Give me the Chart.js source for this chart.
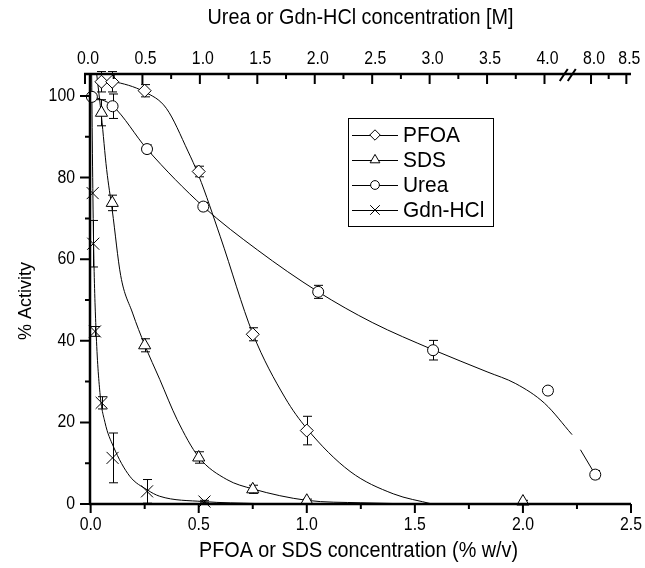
<!DOCTYPE html>
<html>
<head>
<meta charset="utf-8">
<script src="https://cdn.jsdelivr.net/npm/chart.js@4.4.1/dist/chart.umd.min.js"></script>
<style>
  html, body { margin: 0; padding: 0; background: #fff; }
  #wrap { width: 645px; height: 568px; }
</style>
</head>
<body>
<div id="wrap"><canvas id="chart" width="645" height="568"></canvas></div>
<script>
// ---------------- values ----------------
// PFOA and SDS use the bottom axis (% w/v)
const pfoaConc = [0.05, 0.1, 0.25, 0.5, 0.75, 1.0];
const pfoaAct  = [103.5, 103.5, 101.3, 81.5, 41.6, 18.0];
const pfoaErr  = [2.5, 2.5, 1.5, 1.3, 1.6, 3.5];

const sdsConc = [0.05, 0.1, 0.25, 0.5, 0.75, 1.0, 2.0];
const sdsAct  = [95.9, 73.8, 38.9, 11.4, 3.6, 0.8, 0.6];
const sdsErr  = [3.2, 1.9, 1.6, 1.4, 1.0, 0.4, 0.3];

// Urea and Gdn-HCl use the top axis (M)
const ureaConc = [0.06, 0.24, 0.54, 1.03, 2.03, 3.03, 4.03, 8.06];
const ureaAct  = [99.8, 97.5, 87.0, 72.9, 52.0, 37.7, 27.8, 7.2];
const ureaErr  = [0, 3.0, 1.0, 1.0, 1.6, 2.4, 0.8, 1.0];

const gdnConc = [0.067, 0.072, 0.087, 0.145, 0.24, 0.54, 1.04];
const gdnAct  = [76.2, 63.8, 42.3, 24.8, 11.3, 3.1, 0.6];
const gdnErr  = [0, 5.7, 1.2, 1.5, 6.1, 2.9, 0.3];

// fitted curves as they appear in the figure
const pfoaFitX = [0.05, 0.1, 0.25, 0.35, 0.45, 0.5, 0.6, 0.75, 0.9, 1.0, 1.2, 1.4, 1.58];
const pfoaFitY = [103.8, 103.6, 101.0, 97.0, 86.5, 80.5, 65.5, 41.8, 26.0, 18.5, 8.0, 2.5, 0];

const sdsFitX = [0.028, 0.05, 0.074, 0.1, 0.139, 0.194, 0.25, 0.32, 0.40, 0.5, 0.63, 0.75, 1.0, 1.25, 1.54];
const sdsFitY = [105.4, 95, 82, 72, 56, 46.8, 39, 30.5, 20.7, 11.5, 6.0, 3.7, 0.9, 0.3, 0];

const ureaFitX = [0.06, 0.24, 0.54, 1.03, 1.5, 2.03, 2.5, 3.03, 3.5, 3.75, 4.0, 4.24, 6.0, 7.85, 8.06];
const ureaFitY = [100, 97.6, 87.0, 72.9, 62.3, 52.0, 44.5, 37.8, 32.4, 29.5, 24.7, 17.0, null, 13.3, 7.2];

const gdnFitX = [0.058, 0.067, 0.076, 0.096, 0.13, 0.174, 0.247, 0.39, 0.54, 0.65, 1.03, 1.5];
const gdnFitY = [105.4, 80, 62, 42.7, 27.3, 20, 14.1, 6.8, 3.5, 1.9, 0.6, 0.1];

const seriesNames = ['PFOA', 'SDS', 'Urea', 'Gdn-HCl'];

// tick labels
const bottomMajor = [0, 0.5, 1.0, 1.5, 2.0, 2.5];
const bottomMinor = [0.25, 0.75, 1.25, 1.75, 2.25];
const topMajor = [0, 0.5, 1.0, 1.5, 2.0, 2.5, 3.0, 3.5, 4.0, 8.0, 8.5];
const topMinor = [0.25, 0.75, 1.25, 1.75, 2.25, 2.75, 3.25, 3.75, 8.25];
const leftMajor = [0, 20, 40, 60, 80, 100];
const leftMinor = [10, 30, 50, 70, 90];

const FONT = 'Arial, "Liberation Sans", Helvetica, sans-serif';
Chart.defaults.font.family = FONT;
Chart.defaults.color = '#000';

// ---------------- top axis with a break between 4 and 8 M ----------------
const TOP_MIN = 0.0436;   // chart left edge sits slightly right of 0 M
const TOP_MAX = 4.753;
const AFTER_BREAK_START = 4.405;  // where 8.0 M lands on the stretched axis
const AFTER_BREAK_RATIO = 0.615;  // the part after the break is compressed

class BrokenLinearScale extends Chart.LinearScale {
  determineDataLimits() {
    this.min = TOP_MIN;
    this.max = TOP_MAX;
  }
  buildTicks() {
    return topMajor.map(v => ({ value: v }));
  }
  getPixelForValue(value) {
    if (value === null || value === undefined || isNaN(value)) return NaN;
    const u = value > 6 ? AFTER_BREAK_START + (value - 8) * AFTER_BREAK_RATIO : value;
    return super.getPixelForValue(u);
  }
}
BrokenLinearScale.id = 'brokenLinear';
BrokenLinearScale.defaults = Chart.LinearScale.defaults;
Chart.register(BrokenLinearScale);

function toPoints(xs, ys) {
  return xs.map((x, i) => ({ x: x, y: ys[i] }));
}

// the figure uses a tall, slightly narrow face: squeeze text horizontally
function drawText(ctx, text, x, y, size, align, squeeze) {
  ctx.save();
  ctx.translate(x, y);
  ctx.scale(squeeze, 1);
  ctx.font = size + 'px ' + FONT;
  ctx.textAlign = align;
  ctx.textBaseline = 'middle';
  ctx.fillStyle = '#000';
  ctx.fillText(text, 0, 0);
  ctx.restore();
}

// ---------------- plugins ----------------
const errorBarPlugin = {
  id: 'errorBars',
  beforeDatasetsDraw(chart) {
    const ctx = chart.ctx;
    const ys = chart.scales.y;
    ctx.save();
    ctx.strokeStyle = '#000';
    ctx.lineWidth = 1;
    chart.data.datasets.forEach(ds => {
      if (!ds.errors) return;
      const xs = chart.scales[ds.xAxisID];
      ds.data.forEach((p, j) => {
        const e = ds.errors[j];
        if (!e) return;
        const px = Math.round(xs.getPixelForValue(p.x)) + 0.5;
        const y1 = ys.getPixelForValue(p.y + e);
        const y2 = ys.getPixelForValue(p.y - e);
        ctx.beginPath();
        ctx.moveTo(px, y1); ctx.lineTo(px, y2);
        ctx.moveTo(px - 4.5, y1); ctx.lineTo(px + 4.5, y1);
        ctx.moveTo(px - 4.5, y2); ctx.lineTo(px + 4.5, y2);
        ctx.stroke();
      });
    });
    ctx.restore();
  }
};

const TICK_FONT = 18;
const TICK_SQUEEZE = 0.88;

const axisPlugin = {
  id: 'axisDecor',
  afterDraw(chart) {
    const ctx = chart.ctx;
    const { left, right, top, bottom } = chart.chartArea;
    const xs = chart.scales.x, x2 = chart.scales.x2, ys = chart.scales.y;
    ctx.save();
    ctx.strokeStyle = '#000';
    ctx.lineCap = 'butt';

    // axis lines
    ctx.lineWidth = 2.5;
    ctx.beginPath();
    ctx.moveTo(left, top - 1); ctx.lineTo(left, bottom + 1);
    ctx.moveTo(left - 1, bottom); ctx.lineTo(right, bottom);
    ctx.moveTo(x2.getPixelForValue(0) - 1, top); ctx.lineTo(right, top);
    ctx.stroke();

    // ticks: left and bottom point outwards, top points into the plot
    ctx.lineWidth = 2;
    ctx.beginPath();
    leftMajor.forEach(v => { const p = ys.getPixelForValue(v); ctx.moveTo(left, p); ctx.lineTo(left - 10, p); });
    leftMinor.forEach(v => { const p = ys.getPixelForValue(v); ctx.moveTo(left, p); ctx.lineTo(left - 5, p); });
    bottomMajor.forEach(v => { const p = xs.getPixelForValue(v); ctx.moveTo(p, bottom); ctx.lineTo(p, bottom + 9); });
    bottomMinor.forEach(v => { const p = xs.getPixelForValue(v); ctx.moveTo(p, bottom); ctx.lineTo(p, bottom + 5); });
    topMajor.forEach(v => { const p = x2.getPixelForValue(v); ctx.moveTo(p, top); ctx.lineTo(p, top + 10); });
    topMinor.forEach(v => { const p = x2.getPixelForValue(v); ctx.moveTo(p, top); ctx.lineTo(p, top + 5); });
    ctx.stroke();

    // axis break marks between 4.0 and 8.0 M
    const bx = (x2.getPixelForValue(4.0) + x2.getPixelForValue(8.0)) / 2;
    ctx.lineWidth = 2;
    ctx.beginPath();
    ctx.moveTo(bx - 8, top + 7); ctx.lineTo(bx, top - 5);
    ctx.moveTo(bx, top + 7); ctx.lineTo(bx + 8, top - 5);
    ctx.stroke();

    // tick labels
    leftMajor.forEach(v => drawText(ctx, String(v), left - 15, ys.getPixelForValue(v), TICK_FONT, 'right', TICK_SQUEEZE));
    bottomMajor.forEach(v => drawText(ctx, v.toFixed(1), xs.getPixelForValue(v), bottom + 21, TICK_FONT, 'center', TICK_SQUEEZE));
    topMajor.forEach(v => drawText(ctx, v.toFixed(1), x2.getPixelForValue(v) + 3, top - 15, TICK_FONT, 'center', TICK_SQUEEZE));

    // axis titles
    const midX = (left + right) / 2;
    drawText(ctx, 'Urea or Gdn-HCl concentration [M]', midX, 18, 22, 'center', 0.9);
    drawText(ctx, 'PFOA or SDS concentration (% w/v)', midX - 2, 551, 22, 'center', 0.9);
    ctx.translate(26, 301);
    ctx.rotate(-Math.PI / 2);
    drawText(ctx, '% Activity', 0, 0, 18, 'center', 1);
    ctx.restore();
  }
};

const legendPlugin = {
  id: 'boxLegend',
  afterDatasetsDraw(chart) {
    const ctx = chart.ctx;
    ctx.save();
    ctx.strokeStyle = '#000';
    ctx.fillStyle = '#fff';
    ctx.lineWidth = 1;
    ctx.fillRect(348, 118, 145, 108);
    ctx.strokeRect(348.5, 118.5, 145, 108);
    seriesNames.forEach((name, i) => {
      const ds = chart.data.datasets[i];
      const cy = 135 + i * 25;
      ctx.strokeStyle = '#000';
      ctx.lineWidth = 1;
      ctx.beginPath();
      ctx.moveTo(352, cy + 0.5); ctx.lineTo(398, cy + 0.5);
      ctx.stroke();
      ctx.fillStyle = '#fff';
      Chart.helpers.drawPoint(ctx, { pointStyle: ds.pointStyle, radius: ds.pointRadius * 0.8, borderWidth: 1, rotation: 0 }, 375, cy);
      drawText(ctx, name, 403, cy + 1, 22, 'left', 0.95);
    });
    ctx.restore();
  }
};

// ---------------- chart ----------------
const markerBase = { showLine: false, borderColor: '#000', backgroundColor: '#fff', pointBorderWidth: 1, clip: false };
const fitBase = { showLine: true, borderColor: '#000', borderWidth: 1, pointRadius: 0, cubicInterpolationMode: 'monotone', spanGaps: false };
const hiddenTicks = { display: false };
const noGrid = { display: false, drawTicks: false };

new Chart(document.getElementById('chart'), {
  type: 'scatter',
  data: {
    datasets: [
      Object.assign({ label: 'PFOA', data: toPoints(pfoaConc, pfoaAct), errors: pfoaErr, xAxisID: 'x', pointStyle: 'rectRot', pointRadius: 6.5 }, markerBase),
      Object.assign({ label: 'SDS', data: toPoints(sdsConc, sdsAct), errors: sdsErr, xAxisID: 'x', pointStyle: 'triangle', pointRadius: 7 }, markerBase),
      Object.assign({ label: 'Urea', data: toPoints(ureaConc, ureaAct), errors: ureaErr, xAxisID: 'x2', pointStyle: 'circle', pointRadius: 5.5 }, markerBase),
      Object.assign({ label: 'Gdn-HCl', data: toPoints(gdnConc, gdnAct), errors: gdnErr, xAxisID: 'x2', pointStyle: 'crossRot', pointRadius: 8.5 }, markerBase),
      Object.assign({ label: 'PFOA fit', data: toPoints(pfoaFitX, pfoaFitY), xAxisID: 'x' }, fitBase),
      Object.assign({ label: 'SDS fit', data: toPoints(sdsFitX, sdsFitY), xAxisID: 'x' }, fitBase),
      Object.assign({ label: 'Urea fit', data: toPoints(ureaFitX, ureaFitY), xAxisID: 'x2' }, fitBase),
      Object.assign({ label: 'Gdn-HCl fit', data: toPoints(gdnFitX, gdnFitY), xAxisID: 'x2' }, fitBase)
    ]
  },
  options: {
    responsive: false,
    animation: false,
    layout: { padding: { left: 0, right: 14, top: 0, bottom: 0 } },
    plugins: {
      legend: { display: false },
      tooltip: { enabled: false }
    },
    scales: {
      x: {
        type: 'linear', position: 'bottom', min: -0.003, max: 2.5,
        afterBuildTicks: s => { s.ticks = bottomMajor.map(v => ({ value: v })); },
        afterFit: s => { s.height = 64; },
        grid: noGrid, border: { display: false }, ticks: hiddenTicks
      },
      x2: {
        type: 'brokenLinear', position: 'top',
        afterFit: s => { s.height = 74; },
        grid: noGrid, border: { display: false }, ticks: hiddenTicks
      },
      y: {
        type: 'linear', position: 'left', min: 0, max: 105.4,
        afterBuildTicks: s => { s.ticks = leftMajor.map(v => ({ value: v })); },
        afterFit: s => { s.width = 90; },
        grid: noGrid, border: { display: false }, ticks: hiddenTicks
      }
    }
  },
  plugins: [errorBarPlugin, legendPlugin, axisPlugin]
});
</script>
</body>
</html>
